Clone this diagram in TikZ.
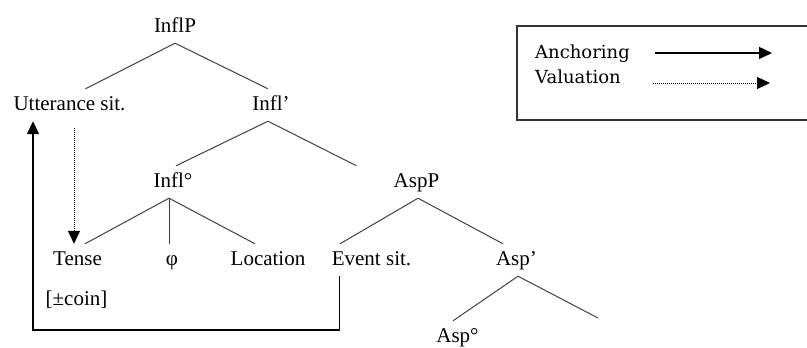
\documentclass[tikz,border=0pt]{standalone}
\usepackage{fontspec}
\setmainfont{Liberation Serif}
\newfontfamily\legendfont{DejaVu Serif}
\usetikzlibrary{arrows.meta}

\begin{document}
\begin{tikzpicture}[x=1pt,y=-1pt,>={Triangle[length=13pt,width=12pt]},
        every node/.style={font=\fontsize{21}{24}\selectfont, inner xsep=0pt, inner ysep=7pt, text height=14pt, text depth=4pt},
        branch/.style={line width=1pt, black!75},
        anchoring/.style={->, line width=1.5pt},
        valuation/.style={->, line width=1pt, dash pattern=on 1pt off 1pt}]
        \useasboundingbox (0,0) rectangle (807,348);

        % Tree nodes
        \node (inflp) at (175,27) {InflP};
        \node (utt) at (69.5,105) {Utterance sit.};
        \node (inflbar) at (271,105) {Infl’};
        \node (inflhead) at (173,182) {Infl°};
        \node (tense) at (77.5,260) {Tense};
        \node (phi) at (172,260) {φ};
        \node (loc) at (268,260) {Location};
        \node (coin) at (76.5,300) {[±coin]};
        \node (aspp) at (416.5,182) {AspP};
        \node (event) at (371.5,260) {Event sit.};
        \node (aspbar) at (516.5,260) {Asp’};
        \node (asphead) at (457.5,337) {Asp°};
        \coordinate (aspcompl) at (598,318);

        % Branches
        \draw[branch] ([xshift=16pt]utt.north) -- (inflp.south) -- ([xshift=-3pt]inflbar.north);
        \draw[branch] ([xshift=3pt]inflhead.north) -- ([xshift=-3pt]inflbar.south) -- ([xshift=-60pt]aspp.north);
        \draw[branch] ([xshift=7.5pt]tense.north) -- ([xshift=-4pt]inflhead.south) -- ([xshift=-13pt]loc.north);
        \draw[branch] ([xshift=-4pt]inflhead.south) -- ([xshift=-3pt]phi.north);
        \draw[branch] ([xshift=-31.5pt]event.north) -- ([xshift=1.5pt]aspp.south) -- ([xshift=-13.5pt]aspbar.north);
        \draw[branch] ([xshift=-4.5pt]asphead.north) -- ([xshift=1.5pt]aspbar.south) -- (aspcompl);

        % Anchoring and valuation
        \draw[anchoring] ([xshift=-32pt]event.south) -- ++(0,54) -| ([xshift=-36.5pt]utt.south);
        \draw[valuation] ([xshift=4.5pt,yshift=-7pt]utt.south) -- ([xshift=-3.5pt]tense.north);

        % Legend
        \draw[line width=1.4pt, black!80] (517,26) rectangle (830,120);
        \node[anchor=base west, font=\legendfont\fontsize{18}{22}\selectfont] (anch) at (535,58) {Anchoring};
        \node[anchor=base west, font=\legendfont\fontsize{18}{22}\selectfont] (val) at (535,83) {Valuation};
        \coordinate (ancha) at (655,53);
        \coordinate (anchb) at (772,53);
        \coordinate (vala) at (653,83);
        \coordinate (valb) at (770,83);
        \draw[anchoring] (ancha) -- (anchb);
        \draw[valuation] (vala) -- (valb);
\end{tikzpicture}
\end{document}
